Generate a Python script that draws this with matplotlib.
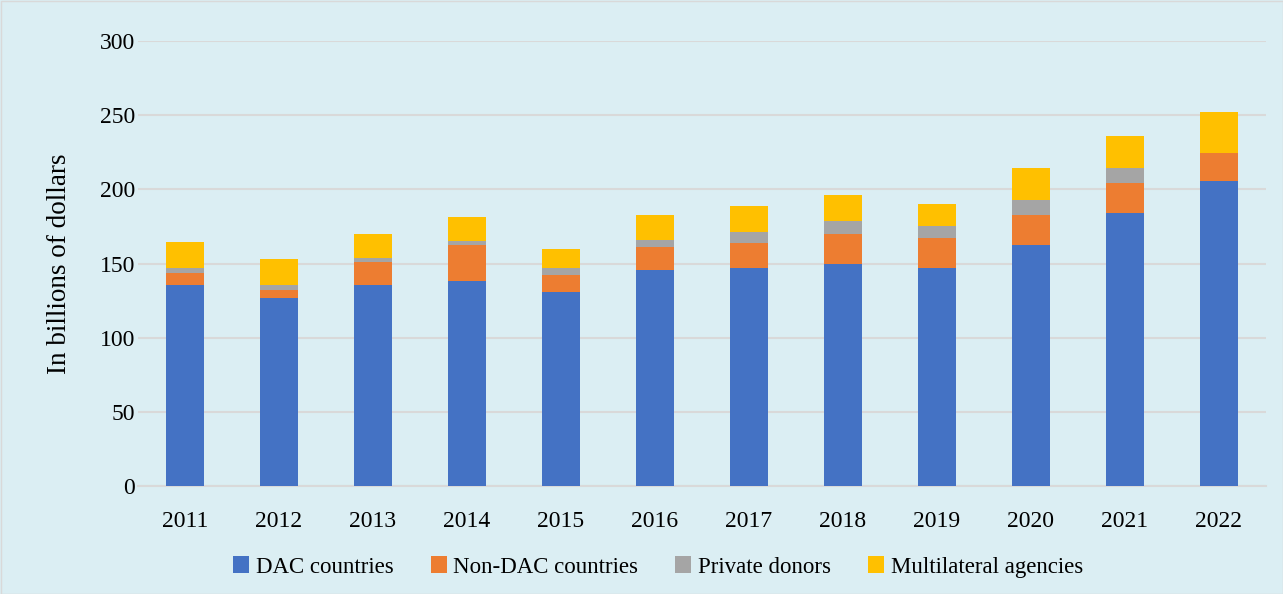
import matplotlib.pyplot as plt
import numpy as np

years = ['2011', '2012', '2013', '2014', '2015', '2016', '2017', '2018', '2019', '2020', '2021', '2022']
dac = [135.3, 127.0, 135.3, 138.2, 130.8, 145.4, 147.0, 149.7, 147.0, 162.7, 184.3, 205.8]
non_dac = [8.5, 5.4, 15.9, 24.3, 11.7, 15.7, 17.0, 20.4, 20.0, 20.2, 20.2, 18.9]
private = [3.2, 3.1, 2.7, 2.9, 4.5, 4.5, 7.2, 8.3, 8.5, 10.1, 10.1, 0.0]
multilateral = [17.3, 17.3, 16.0, 15.9, 12.8, 17.3, 17.6, 17.6, 14.6, 21.6, 21.6, 27.2]

series = [
    ('DAC countries', dac, '#4472C4'),
    ('Non-DAC countries', non_dac, '#ED7D31'),
    ('Private donors', private, '#A5A5A5'),
    ('Multilateral agencies', multilateral, '#FFC000'),
]

bg = '#DBEEF3'
plt.rcParams['font.family'] = ['Liberation Serif', 'DejaVu Serif']

fig = plt.figure(figsize=(12.83, 5.94), dpi=100, facecolor=bg)
ax = fig.add_axes([138 / 1283, 1 - 486 / 594, (1266 - 138) / 1283, (486 - 41) / 594])
ax.set_facecolor(bg)

x = np.arange(len(years))
bottom = np.zeros(len(years))
for name, vals, col in series:
    ax.bar(x, vals, 0.41, bottom=bottom, color=col, label=name, zorder=3)
    bottom += np.array(vals)

ax.set_xlim(-0.5, len(years) - 0.5)
ax.set_ylim(0, 300)
ax.set_yticks(range(0, 301, 50))
ax.set_xticks(x)
ax.set_xticklabels(years)
ax.grid(axis='y', color='#D9D9D9', linewidth=1.5, zorder=0)
for s in ['top', 'right', 'left']:
    ax.spines[s].set_visible(False)
ax.spines['bottom'].set_color('#D9D9D9')
ax.spines['bottom'].set_linewidth(1.5)
ax.tick_params(length=0, labelsize=17)
ax.tick_params(axis='x', pad=18)
ax.tick_params(axis='y', pad=2)
ax.set_ylabel('In billions of dollars', fontsize=19.5, labelpad=20)

fig.legend(loc='center', bbox_to_anchor=(658 / 1283, 1 - 567 / 594), ncol=4, frameon=False,
           fontsize=16.5, handlelength=0.7, handleheight=0.7, handletextpad=0.3, columnspacing=1.6)

fig.patches.append(plt.Rectangle((0.5 / 1283, 0.5 / 594), 1 - 1 / 1283, 1 - 1 / 594,
                                 transform=fig.transFigure, fill=False, edgecolor='#D9D9D9', linewidth=1))

fig.savefig('out.png', dpi=100, facecolor=bg)
